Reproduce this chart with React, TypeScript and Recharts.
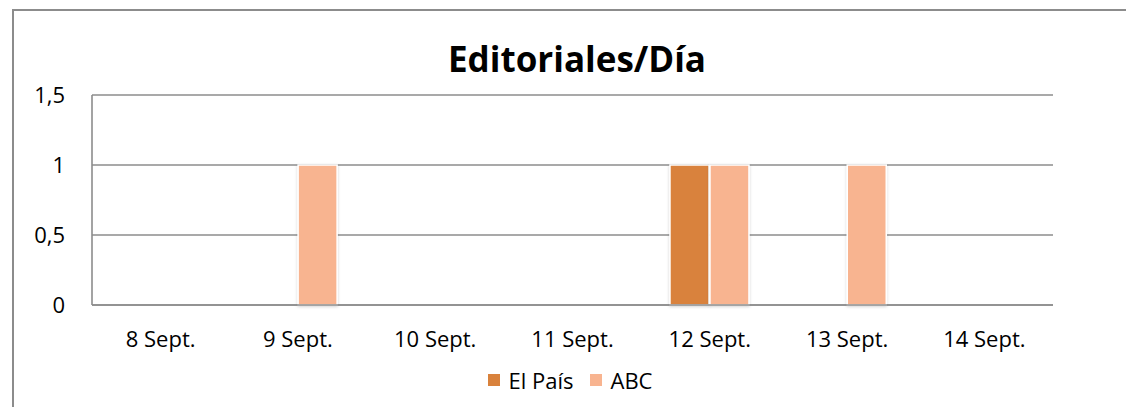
import { Bar, BarChart, CartesianGrid, Legend, XAxis, YAxis } from "recharts";

const days = ["8 Sept.", "9 Sept.", "10 Sept.", "11 Sept.", "12 Sept.", "13 Sept.", "14 Sept."];
const elPais = [0, 0, 0, 0, 1, 0, 0];
const abc = [0, 1, 0, 0, 1, 1, 0];
const yTicks = [0, 0.5, 1, 1.5];

const SERIES = [
  { key: "elPais", name: "El País", color: "#D9823C" },
  { key: "abc", name: "ABC", color: "#F8B490" },
];

const data = days.map((day, i) => ({ day, elPais: elPais[i], abc: abc[i] }));

const FONT = "'Open Sans', sans-serif";

function LegendBox() {
  return (
    <div style={{ display: "flex", justifyContent: "center", gap: 16, fontFamily: FONT, fontSize: 22, color: "#000", lineHeight: "24px" }}>
      {SERIES.map((s) => (
        <span key={s.key} style={{ display: "flex", alignItems: "center", gap: 9 }}>
          <span style={{ width: 12, height: 12, background: s.color, display: "inline-block" }} />
          {s.name}
        </span>
      ))}
    </div>
  );
}

export default function App() {
  return (
    <div style={{ position: "fixed", inset: 0, overflow: "hidden", background: "#fff" }}>
      <div
        style={{
          position: "absolute",
          left: 12,
          top: 9,
          width: 1200,
          height: 500,
          borderLeft: "2px solid #8c8c8c",
          borderTop: "2px solid #8c8c8c",
        }}
      />
      <div
        style={{
          position: "absolute",
          left: 0,
          top: 37,
          width: 1154,
          textAlign: "center",
          fontFamily: FONT,
          fontWeight: 700,
          fontSize: 35,
          lineHeight: "44px",
        }}
      >
        Editoriales/Día
      </div>
      <div style={{ position: "absolute", left: 0, top: 0 }}>
        <BarChart
          width={1126}
          height={407}
          data={data}
          margin={{ top: 95, right: 73, bottom: 38, left: 0 }}
          barCategoryGap="21%"
          barGap={1}
        >
          <defs>
            <filter id="glow" x="-20%" y="-5%" width="140%" height="110%">
              <feDropShadow dx="0" dy="1" stdDeviation="1.5" floodColor="#000" floodOpacity="0.18" />
            </filter>
          </defs>
          <CartesianGrid vertical={false} stroke="#8c8c8c" strokeWidth={1.6} />
          <XAxis
            dataKey="day"
            axisLine={{ stroke: "#8c8c8c", strokeWidth: 1.6 }}
            tickLine={false}
            tickSize={0}
            tickMargin={26}
            interval={0}
            height={40}
            tick={{ fill: "#000", fontSize: 22, fontFamily: FONT }}
          />
          <YAxis
            domain={[0, 1.5]}
            ticks={yTicks}
            width={92}
            axisLine={{ stroke: "#8c8c8c", strokeWidth: 1.6 }}
            tickLine={false}
            tickSize={0}
            tickMargin={27}
            tickFormatter={(v) => String(v).replace(".", ",")}
            tick={{ fill: "#000", fontSize: 22, fontFamily: FONT }}
          />
          <Legend
            verticalAlign="bottom"
            height={24}
            wrapperStyle={{ left: 0, width: 1140, bottom: 15 }}
            content={() => <LegendBox />}
          />
          {SERIES.map((s) => (
            <Bar
              key={s.key}
              dataKey={s.key}
              name={s.name}
              fill={s.color}
              stroke="#fff"
              strokeWidth={1.5}
              filter="url(#glow)"
              isAnimationActive={false}
            />
          ))}
        </BarChart>
      </div>
    </div>
  );
}
